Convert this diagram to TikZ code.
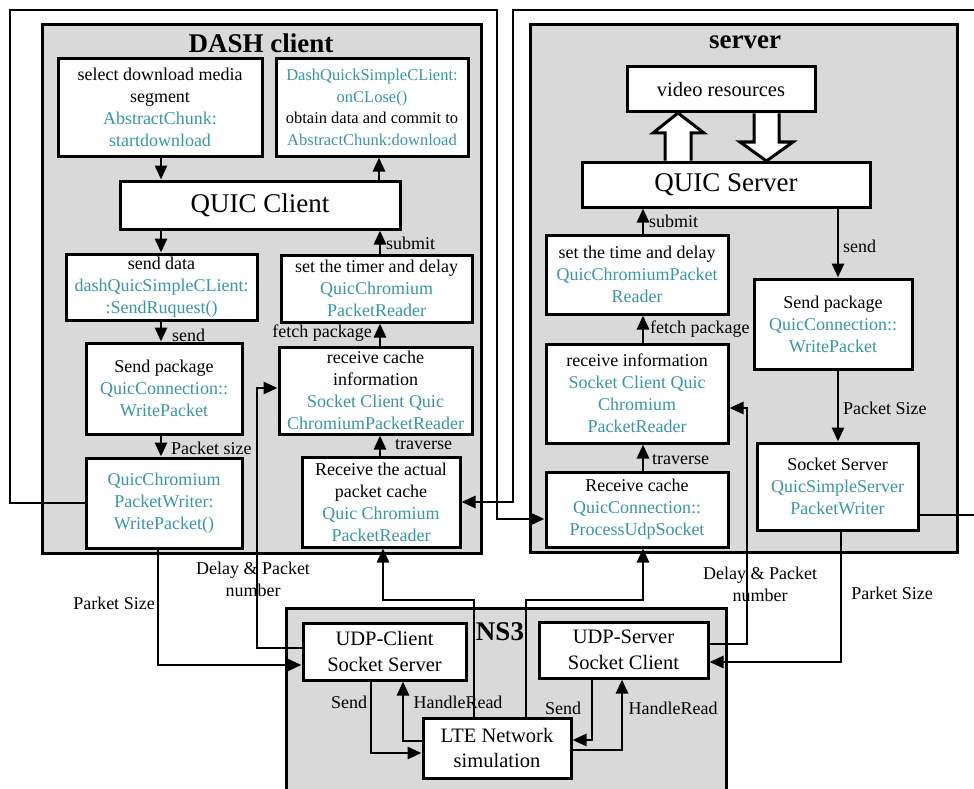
\documentclass[tikz,border=0pt]{standalone}
\usepackage{fontspec}
\setmainfont{Liberation Serif}
\usetikzlibrary{arrows.meta}
\definecolor{codec}{RGB}{57,150,168}
\definecolor{panelgray}{RGB}{217,217,217}
\tikzset{
  box/.style={draw, fill=white, line width=3pt, align=center, inner sep=0pt,
    font=\fontsize{18}{22}\selectfont},
  smallbox/.style={box, font=\fontsize{16.5}{21.5}\selectfont},
  midbox/.style={box, font=\fontsize{20.5}{25.5}\selectfont},
  bigbox/.style={box, font=\fontsize{27}{30}\selectfont},
  panelbox/.style={draw, fill=panelgray, line width=3pt},
  conn/.style={line width=2.8pt},
  arr/.style={conn, -{Triangle[length=14pt,width=12pt]}},
  lbl/.style={font=\fontsize{18}{22}\selectfont, inner sep=1pt, align=center},
  paneltitle/.style={font=\fontsize{27}{30}\selectfont\bfseries, inner sep=0pt},
  blockarrow/.style={draw, fill=white, line width=3pt, line join=miter},
}
\newcommand{\cc}[1]{\textcolor{codec}{#1}}
\begin{document}
\begin{tikzpicture}[x=1pt, y=-1pt]
\useasboundingbox (0,0) rectangle (974,789);

% panels
\draw[panelbox] (42,25) rectangle (481,553);
\draw[panelbox] (530,25) rectangle (957,552);
\draw[panelbox] (286,608) rectangle (726,805);

\node[paneltitle] (tdash) at (261,43) {DASH client};
\node[paneltitle] (tserver) at (745,42) {server};
\node[paneltitle] (tns) at (500,632) {NS3};

% DASH client boxes
\node[box, minimum width=204pt, minimum height=97pt] (sel) at (160,107.5)
  {select download media\\segment\\\cc{AbstractChunk:}\\\cc{startdownload}};
\node[smallbox, minimum width=192pt, minimum height=97pt] (onc) at (372,107.5)
  {\cc{DashQuickSimpleCLient:}\\\cc{onCLose()}\\obtain data and commit to\\\cc{AbstractChunk:download}};
\node[bigbox, minimum width=280pt, minimum height=48pt] (qc) at (260,205) {QUIC Client};
\node[box, minimum width=191pt, minimum height=66pt] (sd) at (161.5,287)
  {send data\\\cc{dashQuicSimpleCLient:}\\\cc{:SendRuquest()}};
\node[box, minimum width=191pt, minimum height=67pt] (tm) at (376.5,288.5)
  {set the timer and delay\\\cc{QuicChromium}\\\cc{PacketReader}};
\node[box, minimum width=156pt, minimum height=91pt] (sp) at (164,388.5)
  {Send package\\\cc{QuicConnection::}\\\cc{WritePacket}};
\node[box, minimum width=193pt, minimum height=87pt] (rci) at (375.5,390.5)
  {receive cache\\information\\\cc{Socket Client Quic}\\\cc{ChromiumPacketReader}};
\node[box, minimum width=156pt, minimum height=90pt] (pw) at (164,503)
  {\cc{QuicChromium}\\\cc{PacketWriter:}\\\cc{WritePacket()}};
\node[box, minimum width=158pt, minimum height=90pt] (rac) at (381,502)
  {Receive the actual\\packet cache\\\cc{Quic Chromium}\\\cc{PacketReader}};

% server boxes
\node[midbox, minimum width=188pt, minimum height=45pt] (vr) at (721,89.5) {video resources};
\node[bigbox, minimum width=288pt, minimum height=45pt] (qs) at (726,184.5) {QUIC Server};
\node[box, minimum width=182pt, minimum height=79pt] (std) at (637,274.5)
  {set the time and delay\\\cc{QuicChromiumPacket}\\\cc{Reader}};
\node[box, minimum width=158pt, minimum height=90pt] (ssp) at (833,324)
  {Send package\\\cc{QuicConnection::}\\\cc{WritePacket}};
\node[box, minimum width=182pt, minimum height=99pt] (rin) at (637,393.5)
  {receive information\\\cc{Socket Client Quic}\\\cc{Chromium}\\\cc{PacketReader}};
\node[box, minimum width=182pt, minimum height=75pt] (src) at (637,509.5)
  {Receive cache\\\cc{QuicConnection::}\\\cc{ProcessUdpSocket}};
\node[box, minimum width=161pt, minimum height=87pt] (ss) at (837.5,486.5)
  {Socket Server\\\cc{QuicSimpleServer}\\\cc{PacketWriter}};

% NS3 boxes
\node[midbox, minimum width=163pt, minimum height=57pt] (udc) at (384.5,651.5) {UDP-Client\\Socket Server};
\node[midbox, minimum width=169pt, minimum height=56pt] (uds) at (623.5,650) {UDP-Server\\Socket Client};
\node[midbox, minimum width=148pt, minimum height=60pt] (lte) at (497,748) {LTE Network\\simulation};

% block arrows between QUIC Server and video resources
\draw[blockarrow] (qs.north -| 665,0) -- (665,133) -- (653,133) -- (678,113) -- (704,133) -- (691,133) -- (qs.north -| 691,0);
\draw[blockarrow] (vr.south -| 754,0) -- (754,142) -- (740,142) -- (766.5,161) -- (793,142) -- (779,142) -- (vr.south -| 779,0);

% client vertical arrows
\draw[arr] (sel.south -| 161,0) -- (qc.north -| 161,0);
\draw[arr] (qc.south -| 161,0) -- (sd.north -| 161,0);
\draw[arr] (sd.south -| 161,0) -- (sp.north -| 161,0);
\draw[arr] (sp.south -| 161,0) -- (pw.north -| 161,0);
\draw[arr] (qc.north -| 379,0) -- (onc.south -| 379,0);
\draw[arr] (tm.north -| 380,0) -- (qc.south -| 380,0);
\draw[arr] (rci.north -| 380,0) -- (tm.south -| 380,0);
\draw[arr] (rac.north -| 380,0) -- (rci.south -| 380,0);

% server vertical arrows
\draw[arr] (std.north -| 643,0) -- (qs.south -| 643,0);
\draw[arr] (rin.north -| 643,0) -- (std.south -| 643,0);
\draw[arr] (src.north -| 643,0) -- (rin.south -| 643,0);
\draw[arr] (qs.south -| 838,0) -- (ssp.north -| 838,0);
\draw[arr] (ssp.south -| 838,0) -- (ss.north -| 838,0);

% loops between client and server
\draw[arr] (pw.west) -- (10,503) -- (10,10) -- (497,10) -- (497,519) -- (src.west |- 0,519);
\draw[arr] (ss.east |- 0,515) -- (990,515) -- (990,10) -- (513,10) -- (513,502) -- (rac.east);

% client <-> NS3
\draw[arr] (udc.west |- 0,648) -- (257,648) -- (257,388) -- (rci.west |- 0,388);
\draw[arr] (pw.south -| 158,0) -- (158,665) -- (udc.west |- 0,665);
\draw[arr] (lte.north -| 474,0) -- (474,600) -- (383,600) -- (rac.south -| 383,0);
\draw[arr] (lte.north -| 526,0) -- (526,600) -- (643,600) -- (src.south -| 643,0);

% inside NS3
\draw[arr] (udc.south -| 371,0) -- (371,753) -- (lte.west |- 0,753);
\draw[arr] (lte.west |- 0,741) -- (403,741) -- (udc.south -| 403,0);
\draw[arr] (uds.south -| 592,0) -- (592,740) -- (lte.east |- 0,740);
\draw[arr] (lte.east |- 0,750) -- (622,750) -- (uds.south -| 622,0);

% server <-> NS3
\draw[arr] (uds.east |- 0,644) -- (747,644) -- (747,408) -- (rin.east |- 0,408);
\draw[arr] (ss.south -| 841,0) -- (841,662) -- (uds.east |- 0,662);

% labels
\node[lbl, anchor=west] (l1) at (385,243) {submit};
\node[lbl, anchor=west] (l2) at (171,335) {send};
\node[lbl, anchor=east] (l3) at (373,333) {fetch package};
\node[lbl, anchor=west] (l4) at (170,448) {Packet size};
\node[lbl, anchor=west] (l5) at (394,445) {traverse};
\node[lbl, anchor=west] (l6) at (648,221) {submit};
\node[lbl, anchor=west] (l7) at (842,246) {send};
\node[lbl, anchor=west] (l8) at (649,329) {fetch package};
\node[lbl, anchor=west] (l9) at (651,460) {traverse};
\node[lbl, anchor=west] (l10) at (842,408) {Packet Size};
\node[lbl] (l11) at (253,579) {Delay \& Packet\\number};
\node[lbl] (l12) at (114,603) {Parket Size};
\node[lbl] (l13) at (760,584) {Delay \& Packet\\number};
\node[lbl] (l14) at (892,593) {Parket Size};
\node[lbl] (l15) at (349,702) {Send};
\node[lbl] (l16) at (458,702) {HandleRead};
\node[lbl] (l17) at (563,708) {Send};
\node[lbl] (l18) at (673,708) {HandleRead};
\end{tikzpicture}
\end{document}
